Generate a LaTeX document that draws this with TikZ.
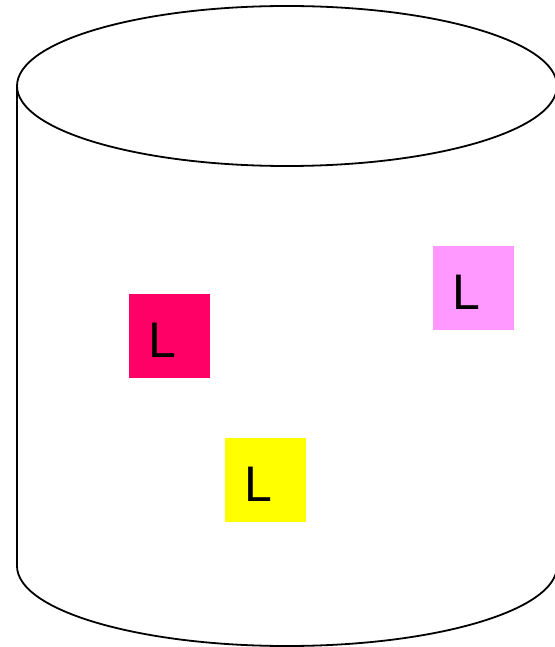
\documentclass[tikz,border=0pt]{standalone}
\usepackage{fontspec}
\setmainfont{Liberation Sans}
\definecolor{hotpink}{HTML}{FF0066}
\definecolor{palepink}{HTML}{FF99FF}
\definecolor{lemon}{HTML}{FFFF00}

\begin{document}
\begin{tikzpicture}[
  x=1pt, y=-1pt,
  outline/.style = {line width=1.8pt, black},
  chip/.style    = {rectangle, inner xsep=19.5pt, inner ysep=0pt,
                    text width=42pt, align=left, text height=42pt, text depth=0pt,
                    minimum width=81pt, minimum height=84pt,
                    font=\fontsize{50pt}{50pt}\selectfont},
]
  \useasboundingbox (0,0) rectangle (554,647);

  % the drum: top rim, sides and the front half of the bottom rim
  \draw[outline] (287,86) ellipse [x radius=270, y radius=80];
  \draw[outline] (17,86) -- (17,566)
    arc [start angle=180, end angle=0, x radius=270, y radius=80]
    -- (557,86);

  \node[chip, fill=hotpink]  (hot)  at (169.5,336) {L};
  \node[chip, fill=palepink] (pale) at (473.5,288) {L};
  \node[chip, fill=lemon]    (yel)  at (265.5,480) {L};
\end{tikzpicture}
\end{document}
